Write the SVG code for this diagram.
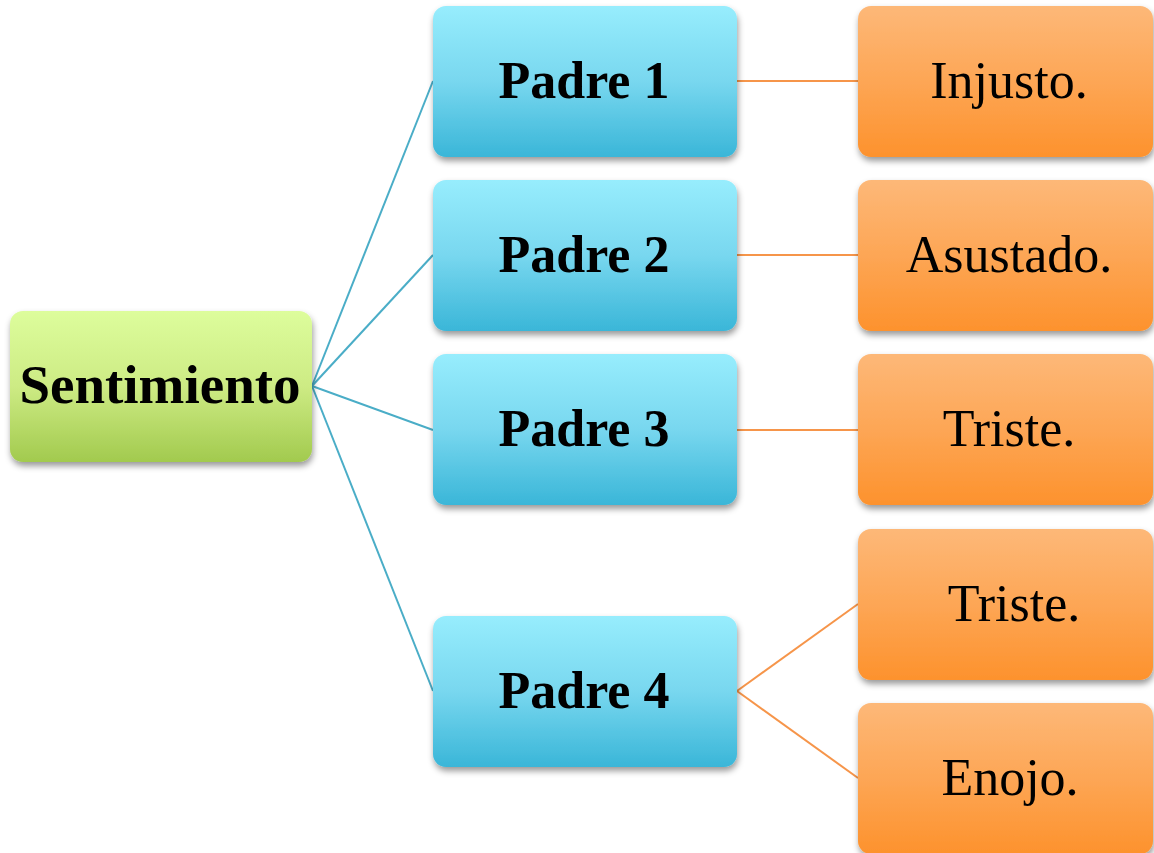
<svg xmlns="http://www.w3.org/2000/svg" width="1154" height="853" viewBox="0 0 1154 853">
<defs>
<linearGradient id="gGreen" x1="0" y1="0" x2="0" y2="1">
<stop offset="0" stop-color="#DDFD9C"/><stop offset="0.5" stop-color="#CDEB84"/><stop offset="1" stop-color="#A2CA4E"/>
</linearGradient>
<linearGradient id="gBlue" x1="0" y1="0" x2="0" y2="1">
<stop offset="0" stop-color="#97EDFD"/><stop offset="0.5" stop-color="#78D7EF"/><stop offset="1" stop-color="#3AB6D8"/>
</linearGradient>
<linearGradient id="gOrange" x1="0" y1="0" x2="0" y2="1">
<stop offset="0" stop-color="#FDB878"/><stop offset="0.5" stop-color="#FDA655"/><stop offset="1" stop-color="#FD922D"/>
</linearGradient>
<filter id="sh" x="-10%" y="-10%" width="125%" height="135%">
<feDropShadow dx="1" dy="4" stdDeviation="3" flood-color="#000" flood-opacity="0.4"/>
</filter>
<style>
.box{filter:url(#sh)}
.g{fill:url(#gGreen)}
.b{fill:url(#gBlue)}
.o{fill:url(#gOrange)}
.tb{font-family:"Liberation Serif","DejaVu Serif",serif;font-weight:bold;font-size:52px;fill:#000;text-anchor:middle}
.tr{font-family:"Liberation Serif","DejaVu Serif",serif;font-size:52px;fill:#000;text-anchor:middle}
.cb{stroke:#4AADC7;stroke-width:2;fill:none}
.co{stroke:#F6954A;stroke-width:2;fill:none}
</style>
</defs>
<rect width="1154" height="853" fill="#fff"/>
<g id="connectors">
<line class="cb" x1="312" y1="386" x2="433" y2="81"/>
<line class="cb" x1="312" y1="386" x2="433" y2="255"/>
<line class="cb" x1="312" y1="386" x2="433" y2="430"/>
<line class="cb" x1="312" y1="386" x2="433" y2="691"/>
<line class="co" x1="737" y1="81" x2="858" y2="81"/>
<line class="co" x1="737" y1="255" x2="858" y2="255"/>
<line class="co" x1="737" y1="430" x2="858" y2="430"/>
<line class="co" x1="737" y1="691" x2="858" y2="604"/>
<line class="co" x1="737" y1="691" x2="858" y2="778"/>
</g>
<g id="sentimiento"><rect class="box g" x="10" y="311" width="302" height="151" rx="13"/><text class="tb" x="160" y="403" style="font-size:55px">Sentimiento</text></g>
<g id="padre1"><rect class="box b" x="433" y="6" width="304" height="151" rx="13"/><text class="tb" x="584" y="98">Padre 1</text></g>
<g id="padre2"><rect class="box b" x="433" y="180" width="304" height="151" rx="13"/><text class="tb" x="584" y="272">Padre 2</text></g>
<g id="padre3"><rect class="box b" x="433" y="354" width="304" height="151" rx="13"/><text class="tb" x="584" y="446">Padre 3</text></g>
<g id="padre4"><rect class="box b" x="433" y="616" width="304" height="151" rx="13"/><text class="tb" x="584" y="708">Padre 4</text></g>
<g id="injusto"><rect class="box o" x="858" y="6" width="295" height="151" rx="13"/><text class="tr" x="1009" y="98">Injusto.</text></g>
<g id="asustado"><rect class="box o" x="858" y="180" width="295" height="151" rx="13"/><text class="tr" x="1009" y="272">Asustado.</text></g>
<g id="triste1"><rect class="box o" x="858" y="354" width="295" height="151" rx="13"/><text class="tr" x="1009" y="446">Triste.</text></g>
<g id="triste2"><rect class="box o" x="858" y="529" width="295" height="151" rx="13"/><text class="tr" x="1014" y="621">Triste.</text></g>
<g id="enojo"><rect class="box o" x="858" y="703" width="295" height="151" rx="13"/><text class="tr" x="1010" y="795">Enojo.</text></g>
</svg>
